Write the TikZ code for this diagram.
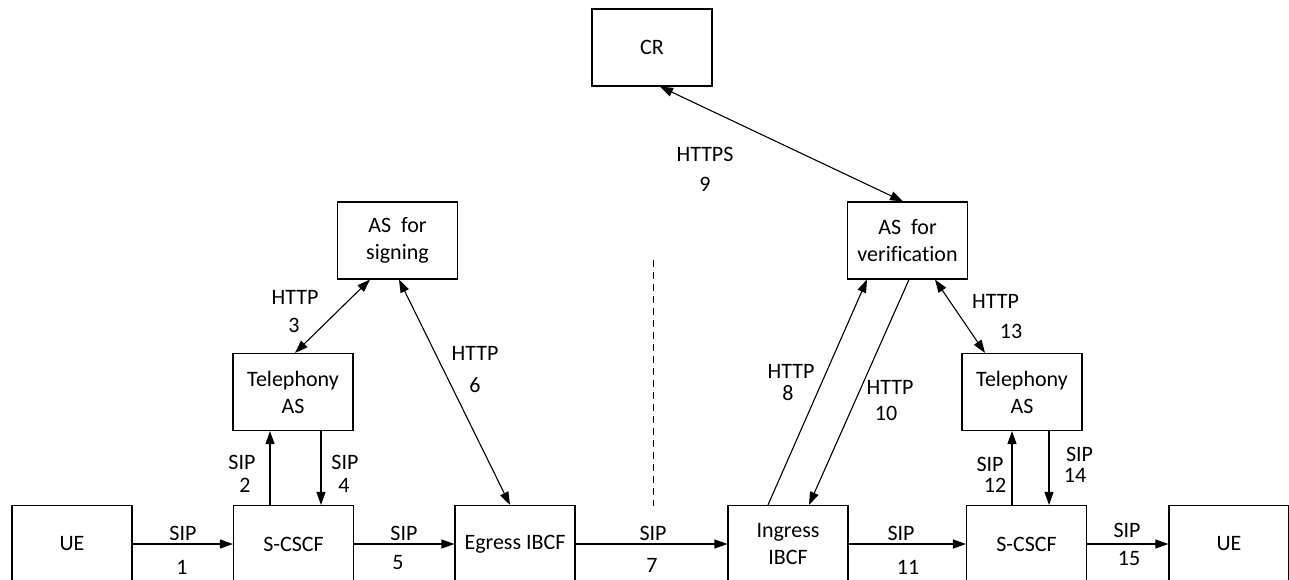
\documentclass[tikz,border=0pt]{standalone}
\usepackage{fontspec}
\setmainfont{Carlito}[Ligatures=CommonOff]
\usetikzlibrary{arrows.meta, calc}

\begin{document}
\begin{tikzpicture}[x=1pt, y=-1pt, line width=1.1pt,
    >={Triangle[length=13pt, width=9pt]},
    every node/.style={font=\fontsize{22}{27}\selectfont},
    box/.style={draw, minimum width=120pt, minimum height=77pt,
      align=center, inner sep=2pt},
    lbl/.style={inner sep=0pt}]
  \useasboundingbox (0,0) rectangle (1289,580);

  % bottom row
  \node[box] (ueL) at (72,544) {UE};
  \node[box] (scscfL) at (293.5,544) {S-CSCF};
  \node[box] (egress) at (515,544) {Egress IBCF};
  \node[box] (ingress) at (788,544) {Ingress\\IBCF};
  \node[box] (scscfR) at (1026.5,544) {S-CSCF};
  \node[box] (ueR) at (1229,544) {UE};

  % application servers
  \node[box] (telL) at (293,392) {Telephony\\AS};
  \node[box] (sign) at (397.5,240.5) {AS\ \ for\\signing};
  \node[box] (averif) at (907.5,240.5) {AS\ \ for\\verification};
  \node[box] (telR) at (1022,392) {Telephony\\AS};
  \node[box] (cr) at (652,47.5) {CR};

  % SIP along the bottom
  \draw[->] (ueL) -- (scscfL);
  \draw[->] (scscfL) -- (egress);
  \draw[->] (egress) -- (ingress);
  \draw[->] (ingress) -- (scscfR);
  \draw[->] (scscfR) -- (ueR);

  % SIP up and down to the telephony AS
  \draw[->] ([xshift=-23.5pt]scscfL.north)
    -- ([xshift=-23.5pt]scscfL.north |- telL.south);
  \draw[->] ([xshift=28pt]telL.south)
    -- ([xshift=28pt]telL.south |- scscfL.north);
  \draw[->] ([xshift=-14.5pt]scscfR.north)
    -- ([xshift=-14.5pt]scscfR.north |- telR.south);
  \draw[->] ([xshift=27pt]telR.south)
    -- ([xshift=27pt]telR.south |- scscfR.north);

  % HTTP(S)
  \draw[<->] ([xshift=2pt]telL.north) -- ([xshift=-27.5pt]sign.south);
  \draw[<->] ([xshift=1.5pt]sign.south) -- ([xshift=-5pt]egress.north);
  \draw[<->] ([xshift=8pt]cr.south) -- ([xshift=-4.5pt]averif.north);
  \draw[->] ([xshift=-20pt]ingress.north) -- ([xshift=-40.5pt]averif.south);
  \draw[->] ([xshift=1.5pt]averif.south) -- ([xshift=21pt]ingress.north);
  \draw[<->] ([xshift=27.5pt]averif.south) -- ([xshift=-37pt]telR.north);

  % network border
  \coordinate (bordertop) at (653,260);
  \coordinate (borderbot) at (653,506);
  \draw[dashed, line width=0.9pt, dash pattern=on 7pt off 5pt]
    (bordertop) -- (borderbot);

  % labels
  \node[lbl] (sip1) at (183,533) {SIP};
  \node[lbl] (no1) at (182,567.5) {1};
  \node[lbl] (sip2) at (242,462.5) {SIP};
  \node[lbl] (no2) at (245,485) {2};
  \node[lbl] (http3) at (295,297.5) {HTTP};
  \node[lbl] (no3) at (294,325) {3};
  \node[lbl] (sip4) at (345,462.5) {SIP};
  \node[lbl] (no4) at (344,485) {4};
  \node[lbl] (sip5) at (404,533) {SIP};
  \node[lbl] (no5) at (398,563) {5};
  \node[lbl] (http6) at (475,353.5) {HTTP};
  \node[lbl] (no6) at (475,385) {6};
  \node[lbl] (sip7) at (653,533) {SIP};
  \node[lbl] (no7) at (652,565) {7};
  \node[lbl] (http8) at (791,371.5) {HTTP};
  \node[lbl] (no8) at (788,393.5) {8};
  \node[lbl] (https9) at (705,154.5) {HTTPS};
  \node[lbl] (no9) at (705,184.5) {9};
  \node[lbl] (http10) at (890,387.5) {HTTP};
  \node[lbl] (no10) at (886,413.5) {10};
  \node[lbl] (sip11) at (901,533) {SIP};
  \node[lbl] (no11) at (908,567.5) {11};
  \node[lbl] (sip12) at (990,464.5) {SIP};
  \node[lbl] (no12) at (995,485.5) {12};
  \node[lbl] (http13) at (995.5,301.5) {HTTP};
  \node[lbl] (no13) at (1011,331.5) {13};
  \node[lbl] (sip14) at (1079.5,454.5) {SIP};
  \node[lbl] (no14) at (1075,475.5) {14};
  \node[lbl] (sip15) at (1127,530) {SIP};
  \node[lbl] (no15) at (1129,558) {15};
\end{tikzpicture}
\end{document}
